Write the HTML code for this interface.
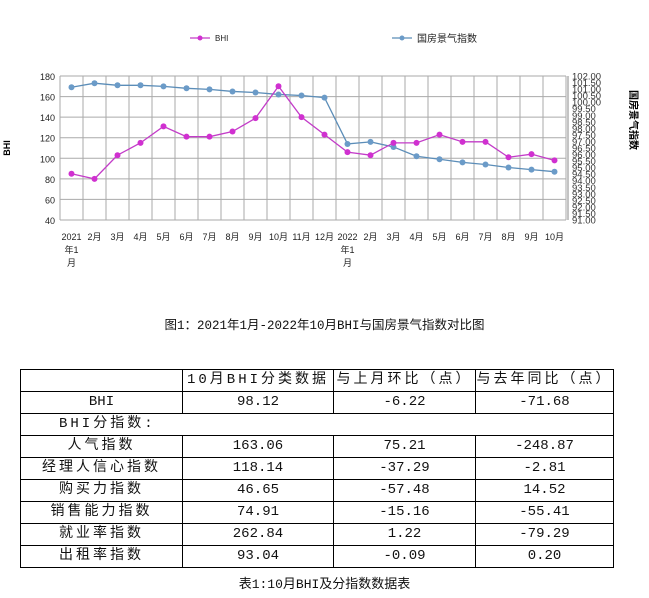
<!DOCTYPE html>
<html><head><meta charset="utf-8"><style>
body{margin:0;width:649px;height:598px;background:#fff;font-family:"Liberation Sans","Noto Sans CJK SC",sans-serif;position:relative;overflow:hidden}
svg{position:absolute;left:0;top:0}
.cap{position:absolute;left:0;width:649px;text-align:center;font-size:13px;color:#111}
table{position:absolute;left:20px;top:369px;border-collapse:collapse;font-family:"Liberation Mono","Noto Sans CJK SC",monospace;font-size:14px;color:#111}
td{border:1px solid #000;height:21px;padding:0;text-align:center;line-height:21px}
td.cn{letter-spacing:3px}
</style></head><body>
<svg id="chart" width="649" height="300"></svg>
<div class="cap" style="top:314px;font-family:'Liberation Mono','Noto Sans CJK SC',monospace;font-size:12.5px">图1：2021年1月-2022年10月BHI与国房景气指数对比图</div>
<table>
<colgroup><col style="width:162px"><col style="width:151px"><col style="width:142px"><col style="width:138px"></colgroup>
<tr><td></td><td class="cn">10月BHI分类数据</td><td class="cn">与上月环比（点）</td><td class="cn">与去年同比（点）</td></tr>
<tr><td>BHI</td><td>98.12</td><td>-6.22</td><td>-71.68</td></tr>
<tr><td colspan="4" class="cn" style="text-align:left;padding-left:38px">BHI分指数:</td></tr>
<tr><td class="cn">人气指数</td><td>163.06</td><td>75.21</td><td>-248.87</td></tr>
<tr><td class="cn">经理人信心指数</td><td>118.14</td><td>-37.29</td><td>-2.81</td></tr>
<tr><td class="cn">购买力指数</td><td>46.65</td><td>-57.48</td><td>14.52</td></tr>
<tr><td class="cn">销售能力指数</td><td>74.91</td><td>-15.16</td><td>-55.41</td></tr>
<tr><td class="cn">就业率指数</td><td>262.84</td><td>1.22</td><td>-79.29</td></tr>
<tr><td class="cn">出租率指数</td><td>93.04</td><td>-0.09</td><td>0.20</td></tr>
</table>
<div class="cap" style="top:573px;font-family:'Liberation Mono','Noto Sans CJK SC',monospace">表1:10月BHI及分指数数据表</div>
<script>
const categories=["2021\n年1\n月","2月","3月","4月","5月","6月","7月","8月","9月","10月","11月","12月","2022\n年1\n月","2月","3月","4月","5月","6月","7月","8月","9月","10月"];
const bhiValues=[85,80,103,115,131,121,121,126,139,170,140,123,106,103,115,115,123,116,116,101,104,98];
const housingValues=[101.14,101.45,101.29,101.29,101.21,101.06,100.98,100.82,100.74,100.59,100.51,100.35,96.81,96.97,96.58,95.87,95.64,95.40,95.24,95.01,94.85,94.69];
const leftTicks=[40,60,80,100,120,140,160,180];
const rightTicks=["91.00","91.50","92.00","92.50","93.00","93.50","94.00","94.50","95.00","95.50","96.00","96.50","97.00","97.50","98.00","98.50","99.00","99.50","100.00","100.50","101.00","101.50","102.00"];
const svg=document.getElementById('chart');const NS='http://www.w3.org/2000/svg';
const X0=60,X1=566,Y0=76,Y1=220;const band=(X1-X0)/categories.length;
const xs=i=>X0+band*(i+0.5);
const yl=v=>Y1-(v-40)/140*(Y1-Y0);
const yr=v=>Y1-(v-91)/11*(Y1-Y0);
function el(t,a,p){const e=document.createElementNS(NS,t);for(const k in a)e.setAttribute(k,a[k]);(p||svg).appendChild(e);return e;}
let g;
leftTicks.forEach(v=>{g=el('line',{x1:X0,x2:X1,y1:yl(v),y2:yl(v),stroke:'#aaa'});
g=el('text',{x:X0-5,y:yl(v)+4,'text-anchor':'end','font-size':9,fill:'#222'});g.textContent=v;});
for(let i=0;i<=categories.length;i++){g=el('line',{x1:X0+band*i,x2:X0+band*i,y1:Y0,y2:Y1,stroke:'#aaa'});}
el('line',{x1:X1+2,x2:X1+2,y1:Y0,y2:Y1,stroke:'#888'});
rightTicks.forEach(t=>{const y=yr(parseFloat(t));g=el('text',{x:X1+6,y:y+3.5,'font-size':9.5,fill:'#333'});g.textContent=t;});
categories.forEach((c,i)=>{c.split('\n').forEach((s,j)=>{g=el('text',{x:xs(i),y:240+j*13,'text-anchor':'middle','font-size':9,fill:'#222'});g.textContent=s;});});
g=el('polyline',{points:housingValues.map((v,i)=>xs(i)+','+yr(v)).join(' '),fill:'none',stroke:'#5b8db8','stroke-width':1.3});
housingValues.forEach((v,i)=>{g=el('circle',{cx:xs(i),cy:yr(v),r:3,fill:'#6b9bc8'});});
g=el('polyline',{points:bhiValues.map((v,i)=>xs(i)+','+yl(v)).join(' '),fill:'none',stroke:'#c33cc8','stroke-width':1.3});
bhiValues.forEach((v,i)=>{g=el('circle',{cx:xs(i),cy:yl(v),r:3,fill:'#d030d0'});});
g=el('text',{x:10,y:148,'font-size':9,'font-weight':'bold','text-anchor':'middle',transform:'rotate(-90 10 148)'});g.textContent='BHI';
g=el('text',{x:630,y:120,'font-size':10,'font-weight':'bold','text-anchor':'middle',transform:'rotate(90 630 120)'});g.textContent='国房景气指数';
el('line',{x1:190,x2:210,y1:38,y2:38,stroke:'#c33cc8','stroke-width':1.3});el('circle',{cx:200,cy:38,r:2.5,fill:'#d030d0'});
g=el('text',{x:215,y:41,'font-size':8,fill:'#222'});g.textContent='BHI';
el('line',{x1:392,x2:412,y1:38,y2:38,stroke:'#5b8db8','stroke-width':1.3});el('circle',{cx:402,cy:38,r:2.5,fill:'#6b9bc8'});
g=el('text',{x:417,y:42,'font-size':10,fill:'#222'});g.textContent='国房景气指数';
</script>
</body></html>
